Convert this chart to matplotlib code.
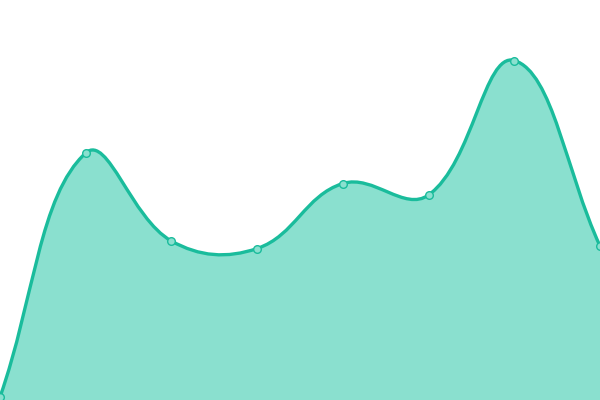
import numpy as np
import matplotlib
matplotlib.use("Agg")
import matplotlib.pyplot as plt
from matplotlib.path import Path
from matplotlib.patches import PathPatch

categories = ["A", "B", "C", "D", "E", "F", "G", "H"]
values = [3, 247, 159, 151.5, 216.5, 205, 339.5, 154]

LINE = "#1abc9c"
FILL = "#8ae0cf"

fig = plt.figure(figsize=(6, 4), dpi=100)
ax = fig.add_axes([0, 0, 1, 1])
n = len(values)
xs = np.linspace(0, 600, n)
ys = np.array(values, dtype=float)

# Chart.js style spline (tension 0.4), computed in display-equivalent coords
t = 0.4
pts = np.column_stack([xs, ys])
cps_prev = []
cps_next = []
for i in range(n):
    p0 = pts[max(i - 1, 0)]
    p1 = pts[i]
    p2 = pts[min(i + 1, n - 1)]
    d01 = np.hypot(*(p1 - p0))
    d12 = np.hypot(*(p2 - p1))
    s01 = d01 / (d01 + d12) if d01 + d12 else 0
    s12 = d12 / (d01 + d12) if d01 + d12 else 0
    fa = t * s01
    fb = t * s12
    cps_prev.append(p1 - fa * (p2 - p0))
    cps_next.append(p1 + fb * (p2 - p0))

verts = [tuple(pts[0])]
codes = [Path.MOVETO]
for i in range(n - 1):
    verts += [tuple(cps_next[i]), tuple(cps_prev[i + 1]), tuple(pts[i + 1])]
    codes += [Path.CURVE4] * 3
line_path = Path(verts, codes)

fverts = verts + [(xs[-1], 0), (xs[0], 0), tuple(pts[0])]
fcodes = codes + [Path.LINETO, Path.LINETO, Path.CLOSEPOLY]
ax.add_patch(PathPatch(Path(fverts, fcodes), facecolor=FILL, edgecolor="none", zorder=1))
ax.add_patch(PathPatch(line_path, facecolor="none", edgecolor=LINE, lw=2.4, zorder=2, capstyle="round"))
ax.plot(xs, ys, "o", ms=5.5, mfc=FILL, mec=LINE, mew=1.0, zorder=3, clip_on=False)

ax.set_xlim(0, 600)
ax.set_ylim(0, 400)
ax.axis("off")
fig.savefig("out.png", dpi=100)
